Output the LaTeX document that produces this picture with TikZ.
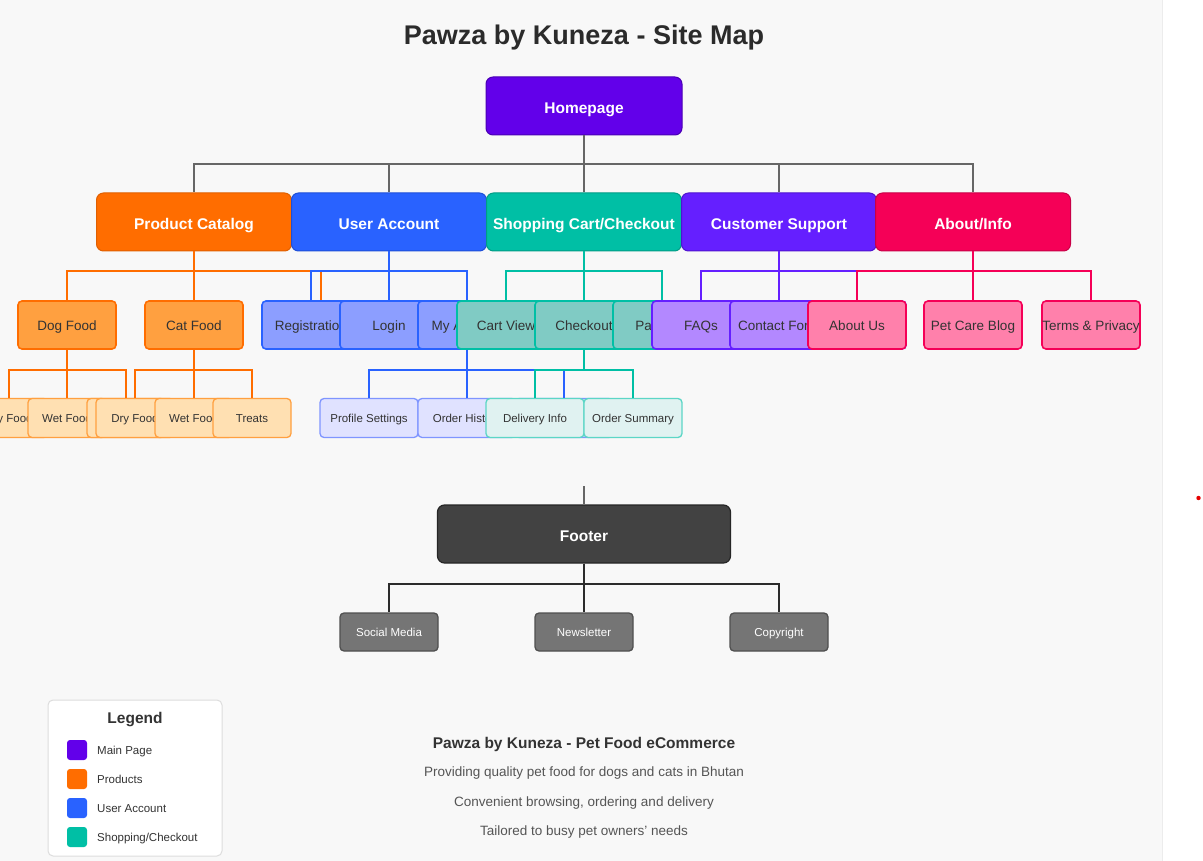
\documentclass[tikz,border=0pt]{standalone}
\usepackage{fontspec}
\setmainfont{Liberation Sans}
\definecolor{pageGray}{HTML}{F8F8F8}
\definecolor{sepGray}{HTML}{ECECEC}
\definecolor{titleGray}{HTML}{2B2B2B}
\definecolor{textGray}{HTML}{333333}
\definecolor{noteGray}{HTML}{555555}
\definecolor{lineGray}{HTML}{666666}
\definecolor{mainPurple}{HTML}{6200EA}
\definecolor{dPurple}{HTML}{4A00B4}
\definecolor{lOrange}{HTML}{FF6D00}
\definecolor{dOrange}{HTML}{E05F00}
\definecolor{mOrange}{HTML}{FFA040}
\definecolor{pOrange}{HTML}{FFE0B2}
\definecolor{bOrange}{HTML}{FFA040}
\definecolor{lBlue}{HTML}{2962FF}
\definecolor{dBlue}{HTML}{1E4FD8}
\definecolor{mBlue}{HTML}{8C9EFF}
\definecolor{pBlue}{HTML}{E0E2FF}
\definecolor{bBlue}{HTML}{7F95FF}
\definecolor{lTeal}{HTML}{00BFA5}
\definecolor{dTeal}{HTML}{009C86}
\definecolor{mTeal}{HTML}{80CBC4}
\definecolor{pTeal}{HTML}{E0F2F1}
\definecolor{bTeal}{HTML}{5CD6C6}
\definecolor{lViolet}{HTML}{651FFF}
\definecolor{dViolet}{HTML}{4F14D0}
\definecolor{mViolet}{HTML}{B388FF}
\definecolor{lPink}{HTML}{F50057}
\definecolor{dPink}{HTML}{C80047}
\definecolor{mPink}{HTML}{FF80AB}
\definecolor{footDark}{HTML}{424242}
\definecolor{footKid}{HTML}{757575}
\definecolor{footOutl}{HTML}{505050}
\definecolor{legendOutl}{HTML}{DDDDDD}
\def\homeFill{mainPurple}
\def\homeOutl{dPurple}
\tikzset{
  box/.style={draw, rounded corners=4pt, inner sep=0pt, align=center},
  bigtext/.style={text height=19pt, text depth=4pt,
    font=\fontsize{15.5}{18}\selectfont\bfseries},
  topbox/.style 2 args={box, fill=#1, draw=#2, line width=1pt, rounded corners=7pt,
    minimum width=195pt, minimum height=58pt, text=white, bigtext},
  midbox/.style 2 args={box, fill=#1, draw=#2, line width=1.6pt,
    minimum width=98pt, minimum height=48pt, text=textGray,
    text height=15.1pt, text depth=3.5pt, font=\fontsize{13.5}{16}\selectfont},
  lowbox/.style 2 args={box, fill=#1, draw=#2, line width=1.3pt,
    minimum width=98pt, minimum height=39pt, text=textGray,
    text height=12.2pt, text depth=3pt, font=\fontsize{11.5}{14}\selectfont},
  link/.style={draw=#1, line width=2pt},
  swatch/.style={fill=#1, rounded corners=3pt, minimum size=20pt, inner sep=0pt},
  legtext/.style={anchor=west, inner sep=0pt, text=textGray, font=\fontsize{11.5}{14}\selectfont,
    text height=10.4pt, text depth=2.4pt}
}

\begin{document}
\begin{tikzpicture}[x=1pt,y=-1pt]
  \useasboundingbox (0,0) rectangle (1203,861);
  \clip (0,0) rectangle (1203,861);
  \fill[white] (0,0) rectangle (1203,861);
  \fill[pageGray] (0,0) rectangle (1162,861);
  \draw[sepGray, line width=0.8pt] (1162,0) -- (1162,861);
  \fill[red!90!black] (1198.5,498) circle (2.2);

  \node[font=\fontsize{27}{32}\selectfont\bfseries, text=titleGray] (title) at (584,38) {Pawza by Kuneza - Site Map};
  \node[topbox={\homeFill}{\homeOutl}, minimum width=196pt] (home) at (584,106) {Homepage};

  % first level
  \node[topbox={lOrange}{dOrange}] (pc) at (194,222) {Product Catalog};
  \node[topbox={lBlue}{dBlue}] (ua) at (389,222) {User Account};
  \node[topbox={lTeal}{dTeal}] (sc) at (584,222) {Shopping Cart/Checkout};
  \node[topbox={lViolet}{dViolet}] (cs) at (779,222) {Customer Support};
  \node[topbox={lPink}{dPink}] (ai) at (973,222) {About/Info};

  % second level
  \node[midbox={mOrange}{lOrange}] (dog) at (67,325) {Dog Food};
  \node[midbox={mOrange}{lOrange}] (cat) at (194,325) {Cat Food};
  \node[midbox={mOrange}{lOrange}] (pcx) at (321,325) {};
  \node[midbox={mBlue}{lBlue}] (reg) at (311,325) {Registration};
  \node[midbox={mBlue}{lBlue}] (login) at (389,325) {Login};
  \node[midbox={mBlue}{lBlue}] (acc) at (467,325) {My Account};
  \node[midbox={mTeal}{lTeal}] (cart) at (506,325) {Cart View};
  \node[midbox={mTeal}{lTeal}] (chk) at (584,325) {Checkout};
  \node[midbox={mTeal}{lTeal}] (pay) at (662,325) {Payment};
  \node[midbox={mViolet}{lViolet}] (faq) at (701,325) {FAQs};
  \node[midbox={mViolet}{lViolet}] (contact) at (779,325) {Contact Form};
  \node[midbox={mViolet}{lViolet}] (csx) at (857,325) {};
  \node[midbox={mPink}{lPink}] (about) at (857,325) {About Us};
  \node[midbox={mPink}{lPink}] (blog) at (973,325) {Pet Care Blog};
  \node[midbox={mPink}{lPink}] (terms) at (1091,325) {Terms \& Privacy};

  % third level
  \node[lowbox={pOrange}{bOrange}, minimum width=78pt] (dry1) at (9,418) {Dry Food};
  \node[lowbox={pOrange}{bOrange}, minimum width=78pt] (wet1) at (67,418) {Wet Food};
  \node[lowbox={pOrange}{bOrange}, minimum width=78pt] (dogx) at (126,418) {};
  \node[lowbox={pOrange}{bOrange}, minimum width=78pt] (dry2) at (135,418) {Dry Food};
  \node[lowbox={pOrange}{bOrange}, minimum width=78pt] (wet2) at (194,418) {Wet Food};
  \node[lowbox={pOrange}{bOrange}, minimum width=78pt] (treats) at (252,418) {Treats};
  \node[lowbox={pBlue}{bBlue}] (prof) at (369,418) {Profile Settings};
  \node[lowbox={pBlue}{bBlue}] (hist) at (467,418) {Order History};
  \node[lowbox={pBlue}{bBlue}] (accx) at (564,418) {};
  \node[lowbox={pTeal}{bTeal}] (deliv) at (535,418) {Delivery Info};
  \node[lowbox={pTeal}{bTeal}] (summ) at (633,418) {Order Summary};

  % connectors
  \foreach \c in {pc,ua,sc,cs,ai}
    \draw[link=lineGray] (home.south) -- ++(0,29) -| (\c.north);
  \foreach \c in {dog,cat,pcx}
    \draw[link=lOrange] (pc.south) -- ++(0,20) -| (\c.north);
  \foreach \c in {dry1,wet1,dogx}
    \draw[link=lOrange] (dog.south) -- ++(0,20) -| (\c.north);
  \foreach \c in {dry2,wet2,treats}
    \draw[link=lOrange] (cat.south) -- ++(0,20) -| (\c.north);
  \foreach \c in {reg,login,acc}
    \draw[link=lBlue] (ua.south) -- ++(0,20) -| (\c.north);
  \foreach \c in {prof,hist,accx}
    \draw[link=lBlue] (acc.south) -- ++(0,20) -| (\c.north);
  \foreach \c in {cart,chk,pay}
    \draw[link=lTeal] (sc.south) -- ++(0,20) -| (\c.north);
  \foreach \c in {deliv,summ}
    \draw[link=lTeal] (chk.south) -- ++(0,20) -| (\c.north);
  \foreach \c in {faq,contact,csx}
    \draw[link=lViolet] (cs.south) -- ++(0,20) -| (\c.north);
  \foreach \c in {about,blog,terms}
    \draw[link=lPink] (ai.south) -- ++(0,20) -| (\c.north);

  % footer
  \node[box, fill=footDark, draw=black!85, line width=1.2pt, rounded corners=7pt,
    minimum width=293pt, minimum height=58pt, text=white, bigtext] (foot) at (584,534) {Footer};
  \coordinate (stub) at (584,486);
  \draw[link=lineGray] (stub) -- (foot.north);
  \node[lowbox={footKid}{footOutl}, text=white, minimum height=38pt] (social) at (389,632) {Social Media};
  \node[lowbox={footKid}{footOutl}, text=white, minimum height=38pt] (news) at (584,632) {Newsletter};
  \node[lowbox={footKid}{footOutl}, text=white, minimum height=38pt] (copy) at (779,632) {Copyright};
  \foreach \c in {social,news,copy}
    \draw[link=titleGray] (foot.south) -- ++(0,20) -| (\c.north);

  % legend
  \node[draw=legendOutl, fill=white, line width=1pt, rounded corners=5pt,
    minimum width=174pt, minimum height=156pt] (legend) at (135,778) {};
  \node[text=textGray, font=\fontsize{15.5}{18}\selectfont\bfseries] (legtitle) at (135,720) {Legend};
  \node[swatch=mainPurple] (sw1) at (77,750) {};
  \node[swatch=lOrange] (sw2) at (77,779) {};
  \node[swatch=lBlue] (sw3) at (77,808) {};
  \node[swatch=lTeal] (sw4) at (77,837) {};
  \node[legtext] (lg1) at (97,750) {Main Page};
  \node[legtext] (lg2) at (97,779) {Products};
  \node[legtext] (lg3) at (97,808) {User Account};
  \node[legtext] (lg4) at (97,837) {Shopping/Checkout};

  % notes
  \node[text=textGray, font=\fontsize{15.5}{18}\selectfont\bfseries] (about1) at (584,744) {Pawza by Kuneza - Pet Food eCommerce};
  \node[text=noteGray, font=\fontsize{13.5}{16}\selectfont] (about2) at (584,773) {Providing quality pet food for dogs and cats in Bhutan};
  \node[text=noteGray, font=\fontsize{13.5}{16}\selectfont] (about3) at (584,803) {Convenient browsing, ordering and delivery};
  \node[text=noteGray, font=\fontsize{13.5}{16}\selectfont] (about4) at (584,832) {Tailored to busy pet owners' needs};
\end{tikzpicture}
\end{document}
